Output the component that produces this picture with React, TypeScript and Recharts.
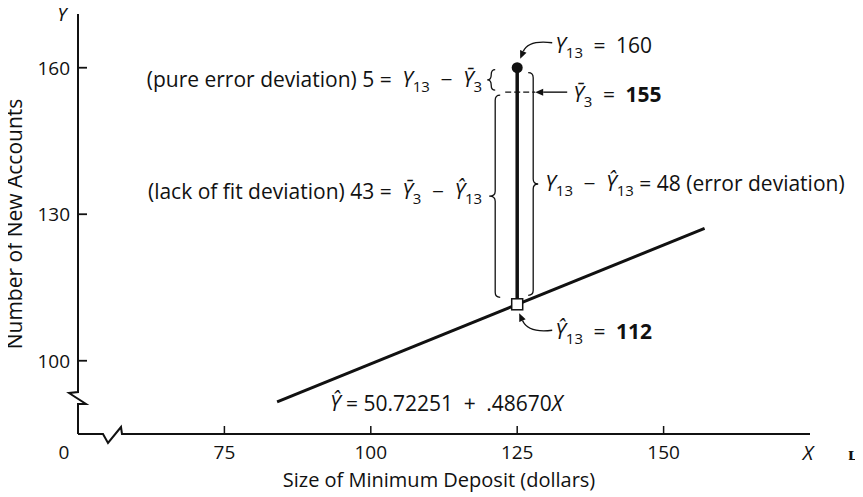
import React from "react";
import {
  ComposedChart,
  XAxis,
  YAxis,
  Line,
  Scatter,
  ReferenceLine,
  ReferenceDot,
} from "recharts";

const FONT = "'Open Sans', 'Noto Sans', sans-serif";
const FS = 20;
const AFS = 21;
const TFS = 19;
const SUB = 15;

// axes
const xDomain = [50, 175];
const yDomain = [85, 171];
const xTicks = [50, 75, 100, 125, 150];
const xTickLabels = ["0", "75", "100", "125", "150"];
const yTicks = [100, 130, 160];
const yTickLabels = ["100", "130", "160"];

// fitted regression line end points
const fitX = [84, 157];
const fitY = [91.6, 127.1];

// level X = 125
const level = 125;
const observedY13 = 160;
const meanY3 = 155;
const fittedY13 = 111.56;

const fitData = fitX.map((x, i) => ({ x, y: fitY[i] }));
const devData = [
  { x: level, y: observedY13 },
  { x: level, y: fittedY13 },
];

const ink = "#111";
const EN = "\u2002";

function arrow(sx: number, sy: number, qx: number, qy: number, ex: number, ey: number) {
  const ang = Math.atan2(ey - qy, ex - qx);
  const L = 8;
  const W = 3.5;
  const bx = ex - L * Math.cos(ang);
  const by = ey - L * Math.sin(ang);
  const s = Math.sin(ang);
  const c = Math.cos(ang);
  return (
    <g>
      <path d={`M${sx},${sy} Q${qx},${qy} ${bx},${by}`} fill="none" stroke={ink} strokeWidth={1.4} />
      <path
        d={`M${ex},${ey} L${bx + W * s},${by - W * c} L${bx - W * s},${by + W * c} Z`}
        fill={ink}
      />
    </g>
  );
}

// brace: vertical at xv, from yTop to yBot; dir=-1 tip points left, +1 tip points right
function brace(xv: number, yTop: number, yBot: number, dir: number, h = 5, t = 5) {
  const ym = (yTop + yBot) / 2;
  const r = Math.min(5, (yBot - yTop) / 4);
  const d =
    `M${xv - dir * h},${yTop} Q${xv},${yTop} ${xv},${yTop + r} ` +
    `L${xv},${ym - r} Q${xv},${ym} ${xv + dir * t},${ym} ` +
    `Q${xv},${ym} ${xv},${ym + r} L${xv},${yBot - r} Q${xv},${yBot} ${xv - dir * h},${yBot}`;
  return <path d={d} fill="none" stroke={ink} strokeWidth={1.3} />;
}

const XTick = (props: any) => {
  const { x, y, payload } = props;
  const idx = xTicks.indexOf(payload.value);
  const origin = payload.value === xDomain[0];
  return (
    <g>
      {!origin && <line x1={x} y1={y} x2={x} y2={y - 8} stroke={ink} strokeWidth={1.5} />}
      <text x={origin ? x - 14 : x} y={y + 25} textAnchor="middle" fontFamily={FONT} fontSize={TFS} fill={ink}>
        {xTickLabels[idx]}
      </text>
    </g>
  );
};

const YTick = (props: any) => {
  const { x, y, payload } = props;
  const idx = yTicks.indexOf(payload.value);
  return (
    <g>
      <line x1={x} y1={y} x2={x + 9} y2={y} stroke={ink} strokeWidth={1.8} />
      <text x={x - 8} y={y + 7} textAnchor="end" fontFamily={FONT} fontSize={TFS} fill={ink}>
        {yTickLabels[idx]}
      </text>
    </g>
  );
};

const YAxisShape = (p: any) => {
  const { x1, y1, x2, y2 } = p;
  const d = `M${x1},${y1} L${x1},${y2 - 42} L${x1 - 9},${y2 - 41} L${x1 + 8},${y2 - 30} L${x1},${y2 - 30} L${x2},${y2}`;
  return <path d={d} fill="none" stroke={ink} strokeWidth={2} strokeLinejoin="miter" />;
};

const XAxisShape = (p: any) => {
  const { x1, y1, x2, y2 } = p;
  const d = `M${x1},${y1} L${x1 + 25},${y1} L${x1 + 30},${y1 + 9} L${x1 + 43},${y1 - 7} L${x1 + 44},${y1} L${x2},${y2}`;
  return <path d={d} fill="none" stroke={ink} strokeWidth={2} />;
};

// pure error brace + text (segment 160 -> 155)
const PureErrorShape = (p: any) => {
  const { x1, y1, y2 } = p;
  return (
    <g>
      {brace(x1 - 26, y1 + 2, y2 - 2, -1, 4, 4)}
      <text x={x1 - 35} y={y1 + 19} textAnchor="end" fontFamily={FONT} fontSize={AFS} fill={ink}>
        {`(pure error deviation) 5 =${EN}`}
        <tspan fontStyle="italic">Y</tspan>
        <tspan dy={5} fontSize={SUB}>13</tspan>
        <tspan dy={-5}>{`${EN}−${EN}`}</tspan>
        <tspan fontStyle="italic">Ȳ</tspan>
        <tspan dy={5} fontSize={SUB}>3</tspan>
      </text>
    </g>
  );
};

// lack of fit brace + text (segment 155 -> 112)
const LackFitShape = (p: any) => {
  const { x1, y1, y2 } = p;
  return (
    <g>
      {brace(x1 - 22, y1 + 3, y2 - 7, -1, 5, 6)}
      <text x={x1 - 35} y={(y1 + y2) / 2 + 1} textAnchor="end" fontFamily={FONT} fontSize={AFS} fill={ink}>
        {`(lack of fit deviation) 43 =${EN}`}
        <tspan fontStyle="italic">Ȳ</tspan>
        <tspan dy={5} fontSize={SUB}>3</tspan>
        <tspan dy={-5}>{`${EN}−${EN}`}</tspan>
        <tspan fontStyle="italic">Ŷ</tspan>
        <tspan dy={5} fontSize={SUB}>13</tspan>
      </text>
    </g>
  );
};

// error deviation brace + text (segment 160 -> 112)
const ErrorShape = (p: any) => {
  const { x1, y1, y2 } = p;
  return (
    <g>
      {brace(x1 + 16, y1 + 5, y2 - 9, 1, 5, 5)}
      <text x={x1 + 28} y={(y1 + y2) / 2 + 5} fontFamily={FONT} fontSize={AFS} fill={ink}>
        <tspan fontStyle="italic">Y</tspan>
        <tspan dy={5} fontSize={SUB}>13</tspan>
        <tspan dy={-5}>{`${EN}−${EN}`}</tspan>
        <tspan fontStyle="italic">Ŷ</tspan>
        <tspan dy={5} fontSize={SUB}>13</tspan>
        <tspan dy={-5}> = 48 (error deviation)</tspan>
      </text>
    </g>
  );
};

const Y13Label = (p: any) => {
  const { cx, cy } = p;
  return (
    <g>
      {arrow(cx + 35, cy - 25, cx + 11, cy - 28, cx + 3, cy - 9)}
      <text x={cx + 38} y={cy - 15} fontFamily={FONT} fontSize={AFS} fill={ink}>
        <tspan fontStyle="italic">Y</tspan>
        <tspan dy={5} fontSize={SUB}>13</tspan>
        <tspan dy={-5}>{`${EN}=${EN}160`}</tspan>
      </text>
    </g>
  );
};

const MeanLabel = (p: any) => {
  const { cx, cy } = p;
  return (
    <g>
      <line x1={cx - 12} y1={cy} x2={cx + 18} y2={cy} stroke={ink} strokeWidth={1.3} strokeDasharray="6 3" />
      {arrow(cx + 50, cy, cx + 34, cy, cx + 18, cy)}
      <text x={cx + 56} y={cy + 10} fontFamily={FONT} fontSize={AFS} fill={ink}>
        <tspan fontStyle="italic">Ȳ</tspan>
        <tspan dy={5} fontSize={SUB}>3</tspan>
        <tspan dy={-5}>{`${EN}=${EN}`}</tspan>
        <tspan fontWeight="bold">155</tspan>
      </text>
    </g>
  );
};

const FittedLabel = (p: any) => {
  const { cx, cy } = p;
  return (
    <g>
      {arrow(cx + 35, cy + 26, cx + 11, cy + 29, cx + 2, cy + 9)}
      <text x={cx + 38} y={cy + 35} fontFamily={FONT} fontSize={AFS} fill={ink}>
        <tspan fontStyle="italic">Ŷ</tspan>
        <tspan dy={5} fontSize={SUB}>13</tspan>
        <tspan dy={-5}>{`${EN}=${EN}`}</tspan>
        <tspan fontWeight="bold">112</tspan>
      </text>
    </g>
  );
};

export default function App() {
  return (
    <div style={{ width: 863, height: 497, marginLeft: -8, marginTop: -8, background: "#fff" }}>
      <ComposedChart
        width={863}
        height={497}
        margin={{ top: 14, right: 53, bottom: 33, left: 8 }}
      >
        <XAxis
          type="number"
          dataKey="x"
          domain={xDomain}
          ticks={xTicks}
          interval={0}
          axisLine={false}
          tickLine={false}
          tickSize={0}
          tickMargin={0}
          height={30}
          tick={<XTick />}
          allowDataOverflow
        />
        <YAxis
          type="number"
          dataKey="y"
          domain={yDomain}
          ticks={yTicks}
          interval={0}
          axisLine={false}
          tickLine={false}
          tickSize={0}
          tickMargin={0}
          width={70}
          tick={<YTick />}
          allowDataOverflow
        />
        <ReferenceLine
          segment={[
            { x: xDomain[0], y: yDomain[1] },
            { x: xDomain[0], y: yDomain[0] },
          ]}
          ifOverflow="visible"
          shape={YAxisShape}
        />
        <ReferenceLine
          segment={[
            { x: xDomain[0], y: yDomain[0] },
            { x: xDomain[1], y: yDomain[0] },
          ]}
          ifOverflow="visible"
          shape={XAxisShape}
        />
        <ReferenceLine
          segment={[
            { x: level, y: observedY13 },
            { x: level, y: meanY3 },
          ]}
          ifOverflow="visible"
          shape={PureErrorShape}
        />
        <ReferenceLine
          segment={[
            { x: level, y: meanY3 },
            { x: level, y: fittedY13 },
          ]}
          ifOverflow="visible"
          shape={LackFitShape}
        />
        <ReferenceLine
          segment={[
            { x: level, y: observedY13 },
            { x: level, y: fittedY13 },
          ]}
          ifOverflow="visible"
          shape={ErrorShape}
        />
        <Line
          data={fitData}
          dataKey="y"
          type="linear"
          stroke={ink}
          strokeWidth={3}
          dot={false}
          activeDot={false}
          isAnimationActive={false}
        />
        <Line
          data={devData}
          dataKey="y"
          type="linear"
          stroke={ink}
          strokeWidth={3.5}
          dot={false}
          activeDot={false}
          isAnimationActive={false}
        />
        <Scatter
          data={[{ x: level, y: observedY13 }]}
          dataKey="y"
          isAnimationActive={false}
          shape={(p: any) => <circle cx={p.cx} cy={p.cy} r={5.5} fill={ink} />}
        />
        <Scatter
          data={[{ x: level, y: fittedY13 }]}
          dataKey="y"
          isAnimationActive={false}
          shape={(p: any) => (
            <rect x={p.cx - 5.5} y={p.cy - 5.5} width={11} height={11} fill="#fff" stroke={ink} strokeWidth={1.5} />
          )}
        />
        <ReferenceDot x={level} y={observedY13} r={0} ifOverflow="visible" shape={Y13Label} />
        <ReferenceDot x={level} y={meanY3} r={0} ifOverflow="visible" shape={MeanLabel} />
        <ReferenceDot x={level} y={fittedY13} r={0} ifOverflow="visible" shape={FittedLabel} />

        {/* free text */}
        <text x={62} y={21} textAnchor="middle" fontFamily={FONT} fontSize={FS} fontStyle="italic" fill={ink}>
          Y
        </text>
        <text x={808} y={460} textAnchor="middle" fontFamily={FONT} fontSize={FS} fontStyle="italic" fill={ink}>
          X
        </text>
        <text x={439} y={487} textAnchor="middle" fontFamily={FONT} fontSize={FS} fill={ink}>
          Size of Minimum Deposit (dollars)
        </text>
        <text
          x={0}
          y={0}
          transform="translate(22,224) rotate(-90)"
          textAnchor="middle"
          fontFamily={FONT}
          fontSize={21}
          fill={ink}
        >
          Number of New Accounts
        </text>
        <text x={330} y={411} fontFamily={FONT} fontSize={AFS} fill={ink}>
          <tspan fontStyle="italic">Ŷ</tspan>
          {` = 50.72251${EN}+${EN}.48670`}
          <tspan fontStyle="italic">X</tspan>
        </text>
        <text x={848} y={460} fontFamily="serif" fontWeight="bold" fontSize={19} fill={ink}>
          ʟ
        </text>
      </ComposedChart>
    </div>
  );
}
